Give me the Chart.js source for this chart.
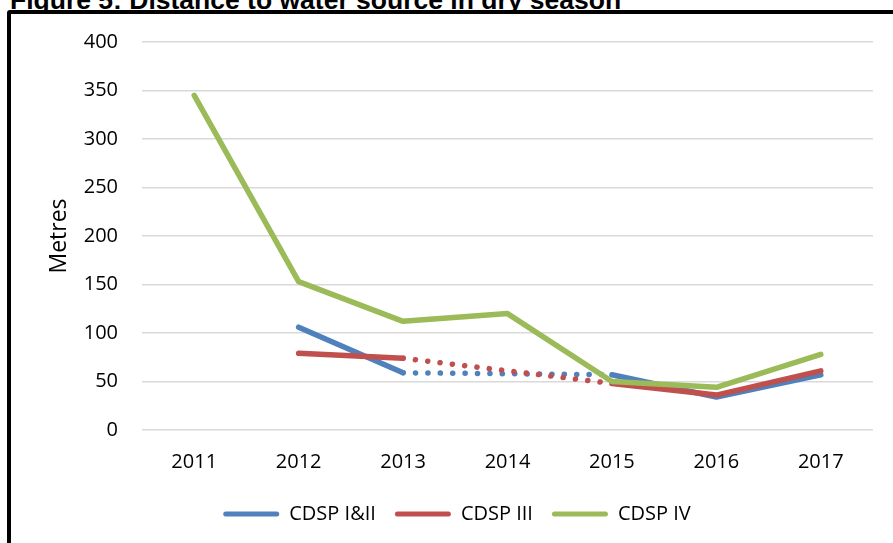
<!DOCTYPE html>
<html>
<head>
<meta charset="utf-8">
<script src="https://cdn.jsdelivr.net/npm/chart.js@4/dist/chart.umd.min.js"></script>
<style>
    html, body { margin: 0; padding: 0; background: #fff; overflow: hidden; width: 893px; height: 543px; }
    #caption {
        position: absolute; left: 10px; top: -13px;
        font: bold 26.5px/26.5px "Liberation Sans", Arial, sans-serif;
        color: #000; white-space: nowrap;
    }
    #frame {
        position: absolute; left: 7px; top: 10px;
        border: 4px solid #000; border-radius: 3px;
        background: #fff; width: 890px; height: 560px;
    }
    canvas { display: block; }
</style>
</head>
<body>
<div id="caption">Figure 5: Distance to water source in dry season</div>
<div id="frame"><canvas id="waterChart" width="890" height="560"></canvas></div>
<script>
// Data
const years = ['2011', '2012', '2013', '2014', '2015', '2016', '2017'];
const cdsp12 = [null, 106, 59, null, 57, 34, 57];
const cdsp3 = [null, 79, 74, null, 48, 36, 61];
const cdsp4 = [345, 153, 112, 120, 50, 44, 78];

const BLUE = '#4f81bd';
const RED = '#c0504d';
const GREEN = '#9bbb59';

document.addEventListener('DOMContentLoaded', () => {
    if (typeof Chart === 'undefined') {
        console.error('Chart.js is not loaded');
        return;
    }

    Chart.defaults.font.family = '"Open Sans", sans-serif';
    Chart.defaults.color = '#000';

    // gap across the missing 2014 value is drawn dotted
    const gapDots = ctx => (ctx.p0.skip || ctx.p1.skip) ? [0.1, 12.3] : undefined;

    const lineSet = (label, data, color, order) => ({
        label: label,
        data: data,
        borderColor: color,
        backgroundColor: color,
        borderWidth: 5.5,
        borderCapStyle: 'round',
        borderJoinStyle: 'round',
        pointRadius: 0,
        pointHoverRadius: 0,
        tension: 0,
        fill: false,
        spanGaps: true,
        order: order,
        segment: { borderDash: gapDots }
    });

    new Chart(document.getElementById('waterChart'), {
        type: 'line',
        data: {
            labels: years,
            datasets: [
                lineSet('CDSP I&II', cdsp12, BLUE, 3),
                lineSet('CDSP III', cdsp3, RED, 2),
                lineSet('CDSP IV', cdsp4, GREEN, 1)
            ]
        },
        options: {
            responsive: false,
            animation: false,
            layout: { padding: { top: 28, left: 30, right: 28, bottom: 40 } },
            plugins: {
                tooltip: { enabled: false },
                legend: {
                    position: 'bottom',
                    labels: {
                        font: { size: 20 },
                        color: '#000',
                        boxWidth: 56,
                        boxHeight: 5,
                        useBorderRadius: true,
                        borderRadius: 2.5,
                        padding: 19,
                        sort: (a, b) => a.datasetIndex - b.datasetIndex,
                        generateLabels: chart =>
                            Chart.defaults.plugins.legend.labels.generateLabels(chart)
                                .map(item => ({ ...item, lineWidth: 0, lineDash: [] }))
                    }
                }
            },
            scales: {
                x: {
                    offset: true,
                    grid: { display: false, drawTicks: false },
                    border: { display: false },
                    ticks: { padding: 20, font: { size: 20 }, color: '#000' },
                    afterFit: scale => { scale.height = 55; }
                },
                y: {
                    min: 0,
                    max: 400,
                    grid: { color: '#d9d9d9', lineWidth: 1.5, drawTicks: false },
                    border: { display: false },
                    ticks: { stepSize: 50, padding: 24, font: { size: 20 }, color: '#000' },
                    title: {
                        display: true,
                        text: 'Metres',
                        font: { size: 23 },
                        color: '#000',
                        padding: { top: 5, bottom: 0 }
                    },
                    afterFit: scale => {
                        scale.width = 101;
                        scale.paddingTop = 0;
                    }
                }
            }
        }
    });
});
</script>
</body>
</html>
